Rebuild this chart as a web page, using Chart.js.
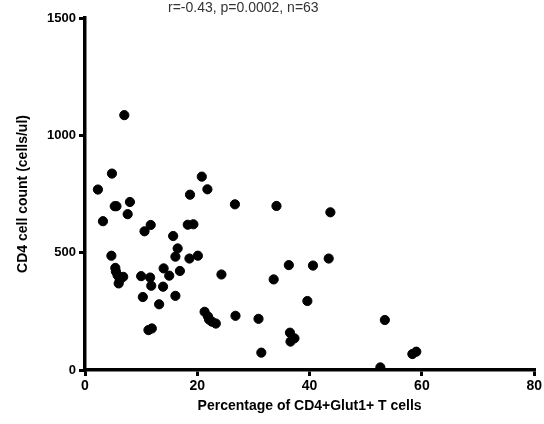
<!DOCTYPE html>
<html>
<head>
<meta charset="utf-8">
<script src="https://cdn.jsdelivr.net/npm/chart.js@4"></script>
<style>
  html, body { margin: 0; padding: 0; background: #fff; }
  #wrap { width: 544px; height: 424px; }
</style>
</head>
<body>
<div id="wrap"><canvas id="scatter"></canvas></div>
<script>
// percentage of CD4+Glut1+ T cells
const glutPct = [
  7.0, 4.8, 2.3, 20.8, 21.8, 18.7, 8.0, 5.3, 5.6, 7.6,
  3.2, 26.7, 10.6, 11.7, 15.7, 18.3, 19.3, 34.1, 43.7, 36.3,
  40.6, 43.4, 33.6, 39.6, 26.8, 30.9, 36.5, 37.3, 36.6, 31.4,
  53.4, 52.6, 58.3, 59.0, 4.7, 5.4, 5.8, 6.8, 6.0, 16.5,
  16.1, 18.6, 20.1, 10.0, 11.6, 11.8, 14.0, 15.0, 16.9, 13.9,
  10.3, 13.2, 16.1, 24.3, 21.3, 21.9, 22.6, 23.3, 11.3, 11.9,
  6.2, 5.5, 22.1
];
// CD4 cell count (cells/ul)
const cd4Count = [
  1086, 837, 769, 824, 770, 747, 716, 698, 698, 664,
  634, 706, 591, 618, 571, 619, 621, 699, 672, 447,
  445, 475, 386, 294, 231, 218, 159, 135, 121, 74,
  213, 11, 68, 78, 487, 435, 404, 397, 369, 518,
  483, 475, 487, 400, 394, 359, 433, 402, 422, 355,
  311, 280, 316, 407, 248, 228, 206, 198, 170, 177,
  385, 420, 215
];
const xTicks = [0, 20, 40, 60, 80];
const yTicks = [0, 500, 1000, 1500];
const statsText = 'r=-0.43, p=0.0002, n=63';

const points = glutPct.map((x, i) => ({ x: x, y: cd4Count[i] }));

const statsLabel = {
  id: 'statsLabel',
  afterDraw(chart) {
    const c = chart.ctx;
    c.save();
    c.font = '14px "Liberation Sans", Arial, sans-serif';
    c.fillStyle = '#333';
    c.textAlign = 'left';
    c.textBaseline = 'top';
    c.fillText(statsText, 168, 1);
    c.restore();
  }
};

const fam = '"Liberation Sans", Arial, sans-serif';

new Chart(document.getElementById('scatter').getContext('2d'), {
  type: 'scatter',
  data: {
    datasets: [{
      data: points,
      backgroundColor: '#000',
      borderColor: '#000',
      pointRadius: 4.6,
      pointHoverRadius: 4.6
    }]
  },
  options: {
    responsive: true,
    maintainAspectRatio: false,
    animation: false,
    layout: { padding: { left: 0, right: 7, top: 18, bottom: 0 } },
    plugins: { legend: { display: false }, tooltip: { enabled: false } },
    scales: {
      x: {
        type: 'linear',
        min: 0, max: 80,
        afterBuildTicks: axis => { axis.ticks = xTicks.map(v => ({ value: v })); },
        afterFit: axis => { axis.height = 54; },
        grid: { display: true, drawOnChartArea: false, drawTicks: true, tickLength: 6, color: '#000', lineWidth: 3 },
        border: { color: '#000', width: 3.5 },
        ticks: { color: '#000', font: { family: fam, size: 14, weight: 'bold' }, padding: 2, callback: v => String(v) },
        title: {
          display: true,
          text: 'Percentage of CD4+Glut1+ T cells',
          color: '#000',
          font: { family: fam, size: 14, weight: 'bold' },
          padding: { top: 0, bottom: 9 }
        }
      },
      y: {
        type: 'linear',
        min: 0, max: 1500,
        afterBuildTicks: axis => { axis.ticks = yTicks.map(v => ({ value: v })); },
        afterFit: axis => { axis.width = 85; },
        grid: { display: true, drawOnChartArea: false, drawTicks: true, tickLength: 6, color: '#000', lineWidth: 3 },
        border: { color: '#000', width: 3.5 },
        ticks: { color: '#000', font: { family: fam, size: 13, weight: 'bold' }, padding: 3, callback: v => String(v) },
        title: {
          display: true,
          text: 'CD4 cell count (cells/ul)',
          color: '#000',
          font: { family: fam, size: 14, weight: 'bold' },
          padding: { top: 15, bottom: 0 }
        }
      }
    }
  },
  plugins: [statsLabel]
});
</script>
</body>
</html>
